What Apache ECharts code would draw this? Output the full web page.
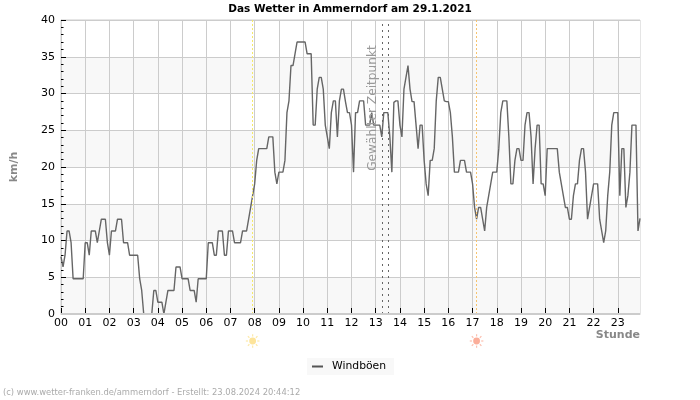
<!DOCTYPE html>
<html>
<head>
<meta charset="utf-8">
<style>
  html, body { margin: 0; padding: 0; background: #fff; }
  #chart { width: 700px; height: 400px; }
</style>
<script src="https://cdn.jsdelivr.net/npm/echarts@6/dist/echarts.min.js"></script>
</head>
<body>
<div id="chart"></div>
<script>
  // 5-Minuten-Werte, 00:00 bis 23:55
  var windboeen = [
    7.8, 6.4, 8, 11.3, 11.3, 9.7, 4.8, 4.8, 4.8, 4.8, 4.8, 4.8,
    9.7, 9.7, 8, 11.3, 11.3, 11.3, 9.7, 11.3, 12.9, 12.9, 12.9, 9.7,
    8, 11.3, 11.3, 11.3, 12.9, 12.9, 12.9, 9.7, 9.7, 9.7, 8, 8,
    8, 8, 8, 4.8, 3.2, 0, 0, 0, 0, 0, 3.2,
    3.2, 1.6, 1.6, 1.6, 0, 1.6, 3.2, 3.2, 3.2, 3.2, 6.4, 6.4,
    6.4, 4.8, 4.8, 4.8, 4.8, 3.2, 3.2, 3.2, 1.6, 4.8, 4.8, 4.8,
    4.8, 4.8, 9.7, 9.7, 9.7, 8, 8, 11.3, 11.3, 11.3, 8, 8,
    11.3, 11.3, 11.3, 9.7, 9.7, 9.7, 9.7, 11.3, 11.3, 11.3, 12.9, 14.5,
    16.1, 17.7, 20.9, 22.5, 22.5, 22.5, 22.5, 22.5, 24.1, 24.1, 24.1, 19.3,
    17.7, 19.3, 19.3, 19.3, 20.9, 27.4, 29, 33.8, 33.8, 35.4, 37, 37,
    37, 37, 37, 35.4, 35.4, 35.4, 25.7, 25.7, 30.6, 32.2, 32.2, 30.6,
    25.7, 24.1, 22.5, 27.4, 29, 29, 24.1, 29, 30.6, 30.6, 28.9, 27.4,
    27.4, 25.7, 19.3, 27.4, 27.4, 29, 29, 29, 25.7, 25.7, 25.7,
    27.4, 25.7, 25.7, 25.7, 25.7, 24.1, 27.4, 27.4, 27.4, 24.1, 19.3, 28.8,
    29, 29, 25.7, 24.1, 30.6, 32.2, 33.8, 30.6, 28.9, 28.9, 25.7, 22.5,
    25.7, 25.7, 20.9, 17.7, 16.1, 20.9, 20.9, 22.5, 29, 32.2, 32.2, 30.6,
    29, 28.9, 28.9, 27.4, 24.1, 19.3, 19.3, 19.3, 20.9, 20.9, 20.9, 19.3,
    19.3, 19.3, 17.7, 14.5, 12.9, 14.5, 14.5, 12.9, 11.3, 14.5, 16.1, 17.7,
    19.3, 19.3, 19.3, 22.5, 27.4, 29, 29, 29, 24.1, 17.7, 17.7, 20.9,
    22.5, 22.5, 20.9, 20.9, 25.7, 27.4, 27.4, 24.1, 17.7, 22.5, 25.7,
    25.7, 17.7, 17.7, 16.1, 22.5, 22.5, 22.5, 22.5, 22.5, 22.5, 19.3, 17.7,
    16.1, 14.5, 14.5, 12.9, 12.9, 16.1, 17.7, 17.7, 20.9, 22.5, 22.5, 19.3,
    12.9, 14.5, 16.1, 17.7, 17.7, 17.7, 12.9, 11.3, 9.7, 11.3, 16.1, 19.3,
    25.7, 27.4, 27.4, 27.4, 16.1, 22.5, 22.5, 14.5, 16.1, 19.3, 25.7, 25.7,
    25.7, 11.3, 13
  ]
  var stunden = []
  for (var i = 0; i < windboeen.length; i++) {
    stunden.push(Math.floor(i / 12) < 10 ? '0' + Math.floor(i / 12) : '' + Math.floor(i / 12))
  }
  var sonnenaufgang = 95
  var sonnenuntergang = 205.7
  var gewaehlt = [158.7, 161.5]

  var fontName = '"DejaVu Sans", sans-serif'
  var chart = echarts.init(document.getElementById('chart'), null, { renderer: 'canvas' })

  function vLine(x, color, type) {
    return {
      xAxis: x,
      lineStyle: { color: color, type: type, width: 1 }
    }
  }

  // Sonne unter der Achse
  function sun(x, y, color, rays) {
    var children = [{
      type: 'circle',
      z: 10,
      shape: { cx: x, cy: y, r: 3.4 },
      style: { fill: color },
      silent: true
    }]
    for (var a = 0; a < 8; a++) {
      var w = a * Math.PI / 4
      children.push({
        type: 'line',
        z: 10,
        shape: {
          x1: x + Math.cos(w) * 4.6, y1: y + Math.sin(w) * 4.6,
          x2: x + Math.cos(w) * 6.8, y2: y + Math.sin(w) * 6.8
        },
        style: { stroke: rays, lineWidth: 1.2 },
        silent: true
      })
    }
    return { type: 'group', children: children }
  }

  chart.setOption({
    animation: false,
    backgroundColor: '#ffffff',
    title: {
      text: 'Das Wetter in Ammerndorf am 29.1.2021',
      left: 345,
      top: -1,
      textAlign: 'center',
      textStyle: { fontFamily: fontName, fontSize: 10.5, fontWeight: 'bold', color: '#000' }
    },
    grid: { left: 61, right: 60, top: 20, bottom: 86, show: true, borderColor: '#ccc', borderWidth: 1, backgroundColor: 'transparent' },
    legend: {
      show: true,
      left: 307,
      top: 358,
      backgroundColor: '#f8f8f8',
      padding: [3, 8, 3, 5],
      itemWidth: 11,
      itemHeight: 2,
      itemGap: 0,
      icon: 'rect',
      textStyle: { fontFamily: fontName, fontSize: 10.8, color: '#000', padding: [0, 0, 0, 4] }
    },
    xAxis: {
      type: 'category',
      boundaryGap: false,
      data: stunden,
      name: 'Stunde',
      nameLocation: 'end',
      nameGap: 0,
      nameTextStyle: { fontFamily: fontName, fontSize: 11, fontWeight: 'bold', color: '#888', align: 'right', verticalAlign: 'top', padding: [16, 0, 0, 0] },
      axisLine: { show: true, lineStyle: { color: '#ccc' } },
      axisTick: { show: true, inside: true, length: 6, interval: 11, lineStyle: { color: '#000' } },
      axisLabel: { interval: 11, margin: 4, fontFamily: fontName, fontSize: 11, color: '#000' },
      splitLine: { show: true, interval: 11, lineStyle: { color: '#ccc', width: 1 } }
    },
    yAxis: {
      type: 'value',
      min: 0,
      max: 40,
      interval: 5,
      name: 'km/h',
      nameLocation: 'middle',
      nameGap: 41,
      nameTextStyle: { fontFamily: fontName, fontSize: 11, fontWeight: 'bold', color: '#888' },
      axisLine: { show: true, lineStyle: { color: '#ccc' } },
      axisTick: { show: true, inside: true, length: 5, lineStyle: { color: '#000' } },
      minorTick: { show: true, splitNumber: 5, length: 2.5, lineStyle: { color: '#000' } },
      axisLabel: { margin: 6, fontFamily: fontName, fontSize: 11, color: '#000' },
      splitLine: { show: true, lineStyle: { color: '#ccc', width: 1 } },
      splitArea: { show: true, areaStyle: { color: ['#f8f8f8', '#ffffff'] } }
    },
    series: [{
      name: 'Windböen',
      type: 'line',
      data: windboeen,
      symbol: 'none',
      smooth: false,
      clip: true,
      itemStyle: { color: '#555' },
      lineStyle: { color: '#666', width: 1.4 },
      markLine: {
        silent: true,
        symbol: 'none',
        label: { show: false },
        data: [
          vLine(sonnenaufgang, '#f5e96a', [2, 2]),
          vLine(sonnenuntergang, '#f7c36e', [2, 2]),
          vLine(gewaehlt[0], '#666', [2, 4]),
          vLine(gewaehlt[1], '#666', [2, 4])
        ]
      }
    }]
  })

  var px = function(i) { return chart.convertToPixel({ xAxisIndex: 0 }, i) }
  chart.setOption({
    graphic: [
      {
        type: 'text',
        left: 3,
        top: 389,
        z: 10,
        style: {
          text: '(c) www.wetter-franken.de/ammerndorf - Erstellt: 23.08.2024 20:44:12',
          fontFamily: fontName,
          fontSize: 8.4,
          fill: '#aaa'
        }
      },
      {
        type: 'text',
        x: 373,
        y: 108,
        z: 10,
        rotation: Math.PI / 2,
        style: {
          text: 'Gewählter Zeitpunkt',
          fontFamily: fontName,
          fontSize: 12.2,
          fill: '#999',
          align: 'center',
          verticalAlign: 'middle'
        }
      },
      // Nullwerte liegen im Original hinter der Achse
      {
        type: 'line',
        z: 10,
        silent: true,
        shape: { x1: px(0), y1: 314, x2: px(windboeen.length - 1), y2: 314 },
        style: { stroke: '#ccc', lineWidth: 2 }
      },
      sun(px(sonnenaufgang), 341, '#fde49a', '#fde9a8'),
      sun(px(sonnenuntergang), 341, '#fbae9a', '#fcc0b0')
    ]
  })
</script>
</body>
</html>
